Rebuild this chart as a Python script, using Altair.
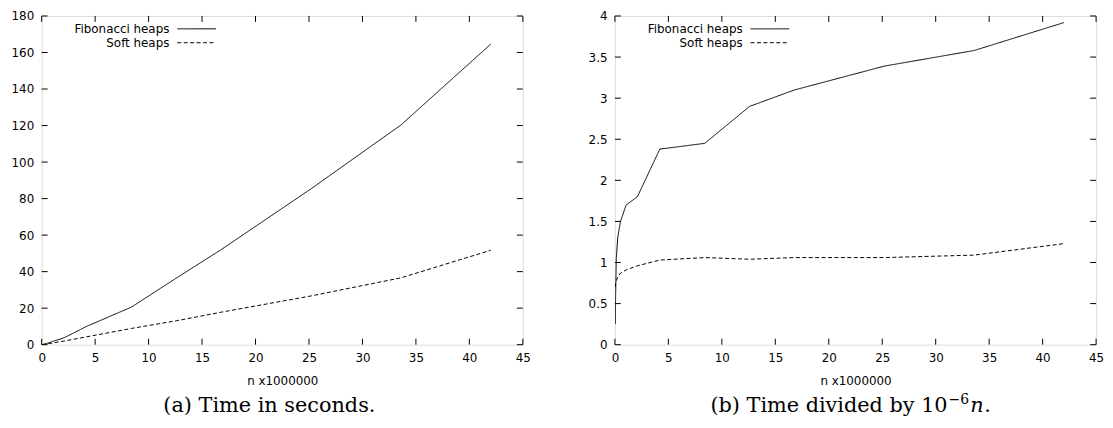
import altair as alt
import pandas as pd

# ---------------- data ----------------
series_names = ["Fibonacci heaps", "Soft heaps"]
n_millions = [0.033, 0.066, 0.13, 0.26, 0.52, 1.05, 2.1, 4.2, 8.4, 12.6, 16.8, 25.2, 33.6, 42.0]

fib_seconds = [0.01, 0.04, 0.14, 0.34, 0.78, 1.8, 3.8, 10.0, 20.6, 36.5, 52.1, 85.4, 120.3, 164.6]
soft_seconds = [0.02, 0.05, 0.1, 0.21, 0.45, 0.96, 2.0, 4.3, 8.9, 13.1, 17.8, 26.7, 36.6, 51.7]

fib_per_n = [0.25, 0.6, 1.05, 1.3, 1.5, 1.7, 1.8, 2.38, 2.45, 2.9, 3.1, 3.39, 3.58, 3.92]
soft_per_n = [0.7, 0.75, 0.78, 0.82, 0.87, 0.91, 0.96, 1.03, 1.06, 1.04, 1.06, 1.06, 1.09, 1.23]

x_ticks = [0, 5, 10, 15, 20, 25, 30, 35, 40, 45]
y_ticks_a = [0, 20, 40, 60, 80, 100, 120, 140, 160, 180]
y_ticks_b = [0, 0.5, 1, 1.5, 2, 2.5, 3, 3.5, 4]

x_title = "n x1000000"
caption_a = "(a) Time in seconds."
caption_b_main = "(b) Time divided by 10"
caption_b_sup = "\u22126"
caption_b_var = "n"
caption_b_end = "."

W, H = 486, 332
SANS = "DejaVu Sans"
SERIF = "DejaVu Serif"
DASHES = [[1, 0], [4, 2.5]]


def long_df(a, b):
    rows = []
    for name, vals in zip(series_names, [a, b]):
        for x, v in zip(n_millions, vals):
            rows.append({"n": x, "value": v, "series": name})
    return pd.DataFrame(rows)


def panel(a, b, ydom, yticks, captions):
    xscale = alt.Scale(domain=[0, 45], nice=False, zero=False)
    yscale = alt.Scale(domain=ydom, nice=False, zero=False)
    xaxis = alt.Axis(values=x_ticks, ticks=False, tickSize=0, domain=False, grid=False,
                     labelFont=SANS, labelFontSize=12, labelColor="black", labelPadding=8,
                     labelFlush=False, labelOverlap=False, format="d",
                     title=x_title, titleFont=SANS, titleFontSize=12, titleFontWeight="normal",
                     titleColor="black", titlePadding=12)
    yaxis = alt.Axis(values=yticks, ticks=False, tickSize=0, domain=False, grid=False,
                     labelFont=SANS, labelFontSize=12, labelColor="black", labelPadding=8,
                     labelFlush=False, labelOverlap=False, format="~r", title=None)

    lines = alt.Chart(long_df(a, b)).mark_line(strokeWidth=1, clip=True).encode(
        x=alt.X("n:Q", scale=xscale, axis=xaxis),
        y=alt.Y("value:Q", scale=yscale, axis=yaxis),
        color=alt.Color("series:N", scale=alt.Scale(domain=series_names, range=["black", "black"]), legend=None),
        strokeDash=alt.StrokeDash("series:N", scale=alt.Scale(domain=series_names, range=DASHES), legend=None),
        detail="series:N",
    )

    xt = pd.DataFrame({"v": x_ticks})
    yt = pd.DataFrame({"v": yticks})
    tick_style = dict(color="black", strokeWidth=1)
    xenc = alt.X("v:Q", scale=xscale, axis=xaxis)
    yenc = alt.Y("v:Q", scale=yscale, axis=yaxis)
    bottom = alt.Chart(xt).mark_rule(**tick_style).encode(x=xenc, y=alt.value(H), y2=alt.value(H - 6))
    top = alt.Chart(xt).mark_rule(**tick_style).encode(x=xenc, y=alt.value(0), y2=alt.value(6))
    left = alt.Chart(yt).mark_rule(**tick_style).encode(y=yenc, x=alt.value(0), x2=alt.value(6))
    right = alt.Chart(yt).mark_rule(**tick_style).encode(y=yenc, x=alt.value(W - 6), x2=alt.value(W))

    layers = [lines, bottom, top, left, right]

    # legend (gnuplot style key)
    for i, name in enumerate(series_names):
        d = pd.DataFrame({"series": [name]})
        layers.append(alt.Chart(d).mark_text(align="right", baseline="middle", font=SANS, fontSize=12, color="black").encode(
            x=alt.value(129), y=alt.value(13 + 14 * i), text="series:N"))
        layers.append(alt.Chart(d).mark_rule(color="black", strokeWidth=1, strokeDash=DASHES[i]).encode(
            x=alt.value(137), x2=alt.value(176), y=alt.value(13 + 14 * i)))

    layers += captions
    return alt.layer(*layers).properties(width=W, height=H)


def cap(text, x, y, size=21, align="left", style="normal"):
    d = pd.DataFrame({"t": [text]})
    return alt.Chart(d).mark_text(align=align, baseline="alphabetic", font=SERIF, fontSize=size,
                                  fontStyle=style, color="black").encode(
        x=alt.value(x), y=alt.value(y), text="t:N")


CAP_Y = 400
caps_a = [cap(caption_a, 230, CAP_Y, align="center")]
caps_b = [
    cap(caption_b_main, 336, CAP_Y, align="right"),
    cap(caption_b_sup, 337, CAP_Y - 8, size=14),
    cap(caption_b_var, 359, CAP_Y, style="italic"),
    cap(caption_b_end, 373, CAP_Y),
]

chart = alt.hconcat(
    panel(fib_seconds, soft_seconds, [0, 180], y_ticks_a, caps_a),
    panel(fib_per_n, soft_per_n, [0, 4], y_ticks_b, caps_b),
    spacing=93, bounds="flush",
).properties(
    padding={"left": 2, "top": -1, "right": 0, "bottom": 0}
).configure_view(stroke="black", strokeWidth=1.3).configure(background="white")

chart.save("out.html", embed_options={"renderer": "svg", "actions": False})
